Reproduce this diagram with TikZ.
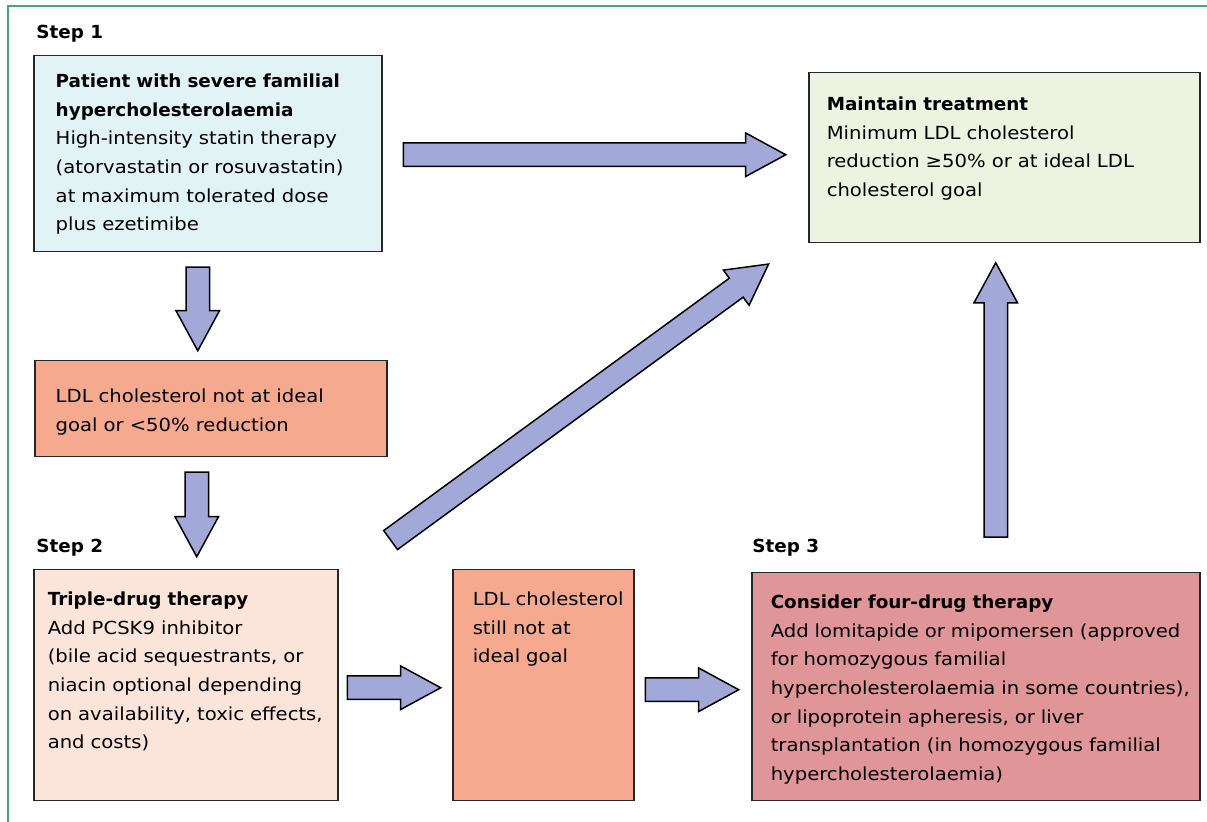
\documentclass[tikz,border=0pt]{standalone}
\usepackage{fontspec}
\setmainfont{DejaVu Sans}[FakeStretch=1.09, BoldFeatures={FakeStretch=1.02}]
\usetikzlibrary{calc}
\usetikzlibrary{shapes.arrows}

\definecolor{framegreen}{RGB}{70,165,120}
\definecolor{boxblue}{RGB}{225,243,245}
\definecolor{boxsalmon}{RGB}{245,170,144}
\definecolor{boxpeach}{RGB}{251,228,218}
\definecolor{boxrose}{RGB}{224,149,153}
\definecolor{boxgreen}{RGB}{237,243,225}
\definecolor{arrowblue}{RGB}{162,169,216}

\newcommand\fatarrow[3]{%
  \path let \p1=($(#3)-(#2)$), \n1={veclen(\x1,\y1)} in
    (#2) -- (#3) node[fatarrow, minimum height=\n1] (#1) {};}

\begin{document}
\begin{tikzpicture}[x=0.5pt, y=-0.5pt,
  font=\fontsize{9pt}{14.3pt}\selectfont,
  box/.style={draw=black!85, line width=0.75pt, anchor=north west, align=left, inner ysep=0pt,
    execute at begin node={\rightskip=0pt plus 2em minus 3em}},
  steplabel/.style={anchor=base west, inner sep=0pt, font=\fontsize{9pt}{14.3pt}\selectfont\bfseries},
  fatarrow/.style={single arrow, draw=black, fill=arrowblue, line width=0.75pt, inner sep=5.5pt,
    single arrow head extend=5pt, single arrow tip angle=57, anchor=tail, sloped, allow upside down, pos=0}]
  \useasboundingbox (0,0) rectangle (1207,822);
  \draw[framegreen, line width=1pt] (8,822) -- (8,6) -- (1207,6);

  % step labels
  \node[steplabel] (s1) at (36,39) {Step 1};
  \node[steplabel] (s2) at (36,553) {Step 2};
  \node[steplabel] (s3) at (752,553) {Step 3};

  % boxes
  \node[box, fill=boxblue, inner xsep=11pt, text width=152pt, text height=16pt, text depth=82pt]
    (b1) at (33,55) {{\bfseries Patient with severe familial\\hypercholesterolaemia}\\High-intensity statin therapy\\(atorvastatin or rosuvastatin)\\at maximum tolerated dose\\plus ezetimibe};
  \node[box, fill=boxsalmon, inner xsep=10.5pt, text width=155pt, text height=21pt, text depth=27pt]
    (b2) at (34,360) {LDL cholesterol not at ideal\\goal or <50\% reduction};
  \node[box, fill=boxpeach, inner xsep=7pt, text width=138pt, text height=18pt, text depth=97.5pt]
    (b3) at (33,569) {{\bfseries Triple-drug therapy}\\Add PCSK9 inhibitor\\(bile acid sequestrants, or\\niacin optional depending\\on availability, toxic effects,\\and costs)};
  \node[box, fill=boxsalmon, inner xsep=10pt, text width=70.5pt, text height=18pt, text depth=97.5pt]
    (b4) at (452,569) {LDL cholesterol\\still not at\\ideal goal};
  \node[box, fill=boxrose, inner xsep=9.5pt, text width=205pt, text height=18pt, text depth=96pt]
    (b5) at (751,572) {{\bfseries Consider four-drug therapy}\\Add lomitapide or mipomersen (approved\\for homozygous familial\\hypercholesterolaemia in some countries),\\or lipoprotein apheresis, or liver\\transplantation (in homozygous familial\\hypercholesterolaemia)};
  \node[box, fill=boxgreen, inner xsep=9pt, text width=177.5pt, text height=19pt, text depth=66pt]
    (b6) at (808,72) {{\bfseries Maintain treatment}\\Minimum LDL cholesterol\\reduction ≥50\% or at ideal LDL\\cholesterol goal};

  % arrow ends
  \coordinate (a1s) at ($(b1.south)+(-10,14)$);
  \coordinate (a1e) at ($(b2.north)+(-13,-10)$);
  \coordinate (a2s) at ($(b2.south)+(-14,14)$);
  \coordinate (a2e) at ($(b3.north)+(11,-13)$);
  \coordinate (a3s) at ($(b3.east)+(8,2.5)$);
  \coordinate (a3e) at ($(b4.west)+(-12,2.5)$);
  \coordinate (a4s) at ($(b4.east)+(10,4.5)$);
  \coordinate (a4e) at ($(b5.west)+(-13,3)$);
  \coordinate (a5s) at ($(b5.north)+(20,-34)$);
  \coordinate (a5e) at ($(b6.south)+(-8.5,20)$);
  \coordinate (a6s) at ($(b1.east)+(20,1)$);
  \coordinate (a6e) at ($(b6.west)+(-23,-3)$);
  \coordinate (a7s) at ($(b3.north east)+(51.5,-28.5)$);
  \coordinate (a7e) at ($(b6.south west)+(-40,21)$);

  % arrows
  \fatarrow{a1}{a1s}{a1e}
  \fatarrow{a2}{a2s}{a2e}
  \fatarrow{a3}{a3s}{a3e}
  \fatarrow{a4}{a4s}{a4e}
  \fatarrow{a5}{a5s}{a5e}
  \fatarrow{a6}{a6s}{a6e}
  \fatarrow{a7}{a7s}{a7e}
\end{tikzpicture}
\end{document}
